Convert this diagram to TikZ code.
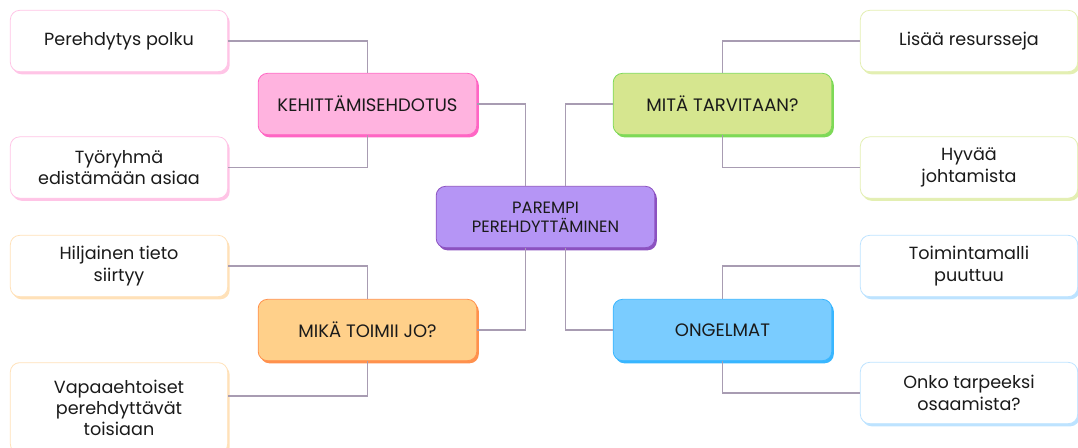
\documentclass[tikz,border=0pt]{standalone}
\usepackage{fontspec}
\setmainfont{Poppins}
\usetikzlibrary{shadows}
\usetikzlibrary{positioning}

\definecolor{pkfill}{HTML}{FFB3DF}
\definecolor{pkdark}{HTML}{FF66C4}
\definecolor{pklight}{HTML}{FFC4E6}
\definecolor{grfill}{HTML}{D6E68F}
\definecolor{grdark}{HTML}{7ED957}
\definecolor{grlight}{HTML}{E3EFB2}
\definecolor{orfill}{HTML}{FFD08A}
\definecolor{ordark}{HTML}{FF914D}
\definecolor{orlight}{HTML}{FFE1B8}
\definecolor{blfill}{HTML}{7ACCFF}
\definecolor{bldark}{HTML}{38B6FF}
\definecolor{bllight}{HTML}{BDE3FF}
\definecolor{pufill}{HTML}{B595F5}
\definecolor{pudark}{HTML}{8C52C0}
\definecolor{linkgray}{HTML}{A89CB2}
\definecolor{ink}{HTML}{1A1A1A}

\begin{document}
\begin{tikzpicture}[x=0.75pt,y=-0.75pt,
    topic/.style={draw=#1dark, fill=#1fill, line width=0.6pt, rounded corners=7pt,
        minimum width=164pt, minimum height=46pt, align=center, text=ink,
        font=\fontsize{13.5}{16}\selectfont,
        general shadow={fill=#1dark, rounded corners=7pt, shadow xshift=1.5pt, shadow yshift=-2pt}},
    leaf/.style={draw=#1light, fill=white, line width=0.6pt, rounded corners=7pt,
        minimum width=163pt, minimum height=46pt, align=center, text=ink,
        font=\fontsize{13.2}{16}\selectfont,
        general shadow={fill=#1light, rounded corners=7pt, shadow xshift=1.5pt, shadow yshift=-2pt}},
    link/.style={draw=linkgray, line width=1.1pt}]
    \clip (0,0) rectangle (1078,448);
    % center
    \node[topic=pu, font=\fontsize{12.3}{14.5}\selectfont] (central) at (545.5,217) {PAREMPI\\PEREHDYTTÄMINEN};
    % upper left
    \node[topic=pk] (kehitt) at (367.5,104) {KEHITTÄMISEHDOTUS};
    \node[leaf=pk] (perehdytys) at (119,41) {Perehdytys polku};
    \node[leaf=pk] (tyoryhma) at (119,167.5) {Työryhmä\\edistämään asiaa};
    % lower left
    \node[topic=or] (mika) at (367.5,330) {MIKÄ TOIMII JO?};
    \node[leaf=or] (hiljainen) at (119,266) {Hiljainen tieto\\siirtyy};
    \node[leaf=or, minimum height=68pt] (vapaa) at (119,408) {Vapaaehtoiset\\perehdyttävät\\toisiaan};
    % upper right
    \node[topic=gr] (mita) at (722.5,104) {MITÄ TARVITAAN?};
    \node[leaf=gr] (lisaa) at (969,41) {Lisää resursseja};
    \node[leaf=gr] (hyvaa) at (969,167.5) {Hyvää\\johtamista};
    % lower right
    \node[topic=bl] (ongelmat) at (722.5,330) {ONGELMAT};
    \node[leaf=bl] (toiminta) at (969,266) {Toimintamalli\\puuttuu};
    \node[leaf=bl] (onko) at (969,393) {Onko tarpeeksi\\osaamista?};
    % links
    \draw[link] (kehitt.east) -| ([xshift=-15pt]central.north);
    \draw[link] (mita.west) -| ([xshift=15pt]central.north);
    \draw[link] (mika.east) -| ([xshift=-15pt]central.south);
    \draw[link] (ongelmat.west) -| ([xshift=15pt]central.south);
    \draw[link] (perehdytys.east) -| (kehitt.north);
    \draw[link] (tyoryhma.east) -| (kehitt.south);
    \draw[link] (hiljainen.east) -| (mika.north);
    \draw[link] (vapaa.east |- 0,396) -| (mika.south);
    \draw[link] (lisaa.west) -| (mita.north);
    \draw[link] (hyvaa.west) -| (mita.south);
    \draw[link] (toiminta.west) -| (ongelmat.north);
    \draw[link] (onko.west) -| (ongelmat.south);
\end{tikzpicture}
\end{document}
